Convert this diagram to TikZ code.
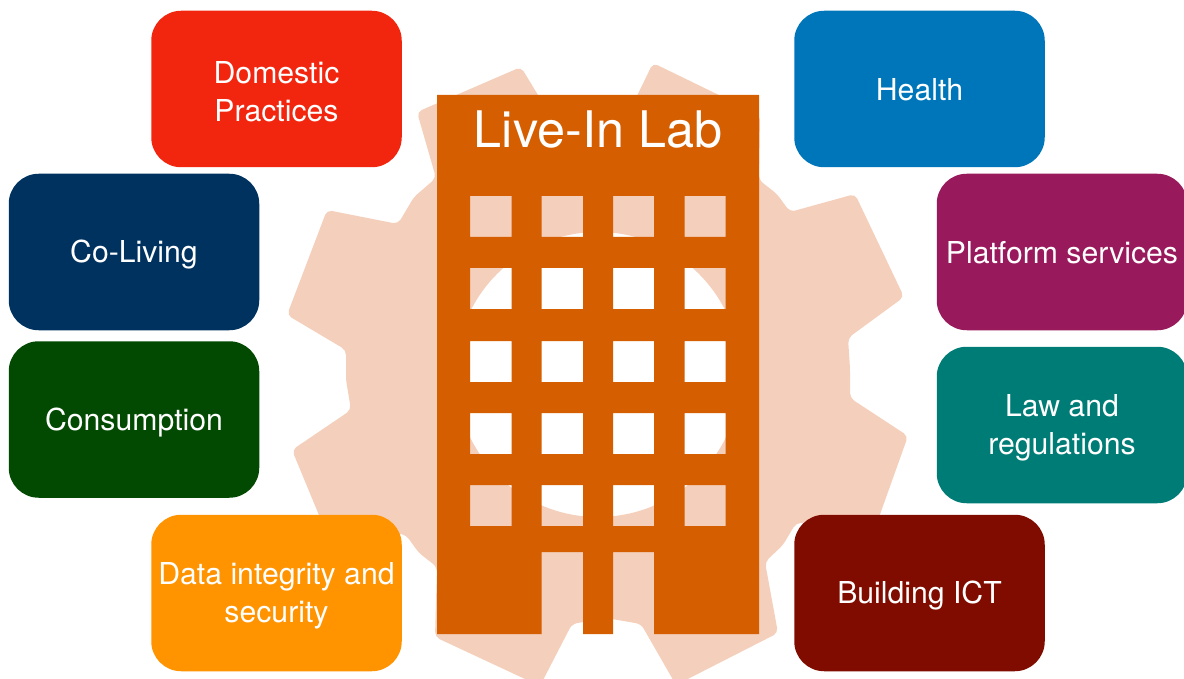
\documentclass[tikz,border=0pt]{standalone}
\usepackage{fontspec}
\setmainfont{TeX Gyre Heros}
\definecolor{gearc}{HTML}{F4CFBB}
\definecolor{bldg}{HTML}{D55E00}
\definecolor{cred}{HTML}{F2260F}
\definecolor{cblue}{HTML}{0076BA}
\definecolor{cnavy}{HTML}{003260}
\definecolor{cgreen}{HTML}{024A02}
\definecolor{corange}{HTML}{FF9300}
\definecolor{cpurple}{HTML}{991A5C}
\definecolor{cteal}{HTML}{007C76}
\definecolor{cmaroon}{HTML}{800C00}
\tikzset{
  topic/.style={rounded corners=30pt, minimum width=250.5pt, minimum height=156.5pt, inner sep=0pt,
    text width=246pt, text=white, align=flush center, font=\fontsize{30.2}{38}\selectfont,
    execute at end node={\par\vspace{-6pt}}},
  title/.style={inner sep=0pt, text=white, font=\fontsize{50.4}{60}\selectfont}
}
\begin{document}
\begin{tikzpicture}[x=1pt,y=-1pt]
\useasboundingbox (0,0) rectangle (1184,679);
\clip (0,0) rectangle (1184,679);
% gear
\fill[gearc,even odd rule,rounded corners=5pt]
  (521,67)--(541,100)--(635,100)--(653,63)--(760,115)--(759,180)--(777,194)--(790,212)--(855,194)--(904,297)
  --(848,338)--(850,368)--(850,398)--(908,436)--(878,520)--(796,523)--(783,545)--(765,562)--(778,633)--(676,685)
  --(641,624)--(606,618)--(572,624)--(540,686)--(435,637)--(437,567)--(419,553)--(406,535)--(321,520)--(292,450)
  --(351,410)--(346,380)--(346,350)--(287,315)--(327,210)--(398,224)--(414,197)--(436,178)--(417,112)--cycle
  (598,374.5) circle[radius=142.5pt];
% building with see-through openings
\fill[bldg,even odd rule]
  (437,95)--(759,95)--(759,634)--(654,634)--(654,552)--(613,552)--(613,634)--(583,634)--(583,552)--(541.5,552)--(541.5,634)--(437,634)--cycle
  (470,196) rectangle (511.5,237) (541.5,196) rectangle (583,237) (613,196) rectangle (654,237) (684.5,196) rectangle (725.5,237)
  (470,268) rectangle (511.5,309) (541.5,268) rectangle (583,309) (613,268) rectangle (654,309) (684.5,268) rectangle (725.5,309)
  (470,341) rectangle (511.5,382) (541.5,341) rectangle (583,382) (613,341) rectangle (654,382) (684.5,341) rectangle (725.5,382)
  (470,413) rectangle (511.5,454) (541.5,413) rectangle (583,454) (613,413) rectangle (654,454) (684.5,413) rectangle (725.5,454)
  (470,485) rectangle (511.5,526) (541.5,485) rectangle (583,526) (613,485) rectangle (654,526) (684.5,485) rectangle (725.5,526);
\node[title] (lab) at (598,129.5) {Live-In Lab};
% topics
\node[topic,fill=cred] (domestic) at (276.5,89) {Domestic\\Practices};
\node[topic,fill=cblue] (health) at (919.5,89) {Health};
\node[topic,fill=cnavy] (coliving) at (134,252) {Co-Living};
\node[topic,fill=cgreen] (consumption) at (134,419.5) {Consumption};
\node[topic,fill=cpurple] (platform) at (1062,252) {Platform services};
\node[topic,fill=cteal] (law) at (1062,425) {Law and\\regulations};
\node[topic,fill=corange] (data) at (276.5,593) {Data integrity and\\security};
\node[topic,fill=cmaroon] (ict) at (919.5,593) {Building ICT};
\end{tikzpicture}
\end{document}
